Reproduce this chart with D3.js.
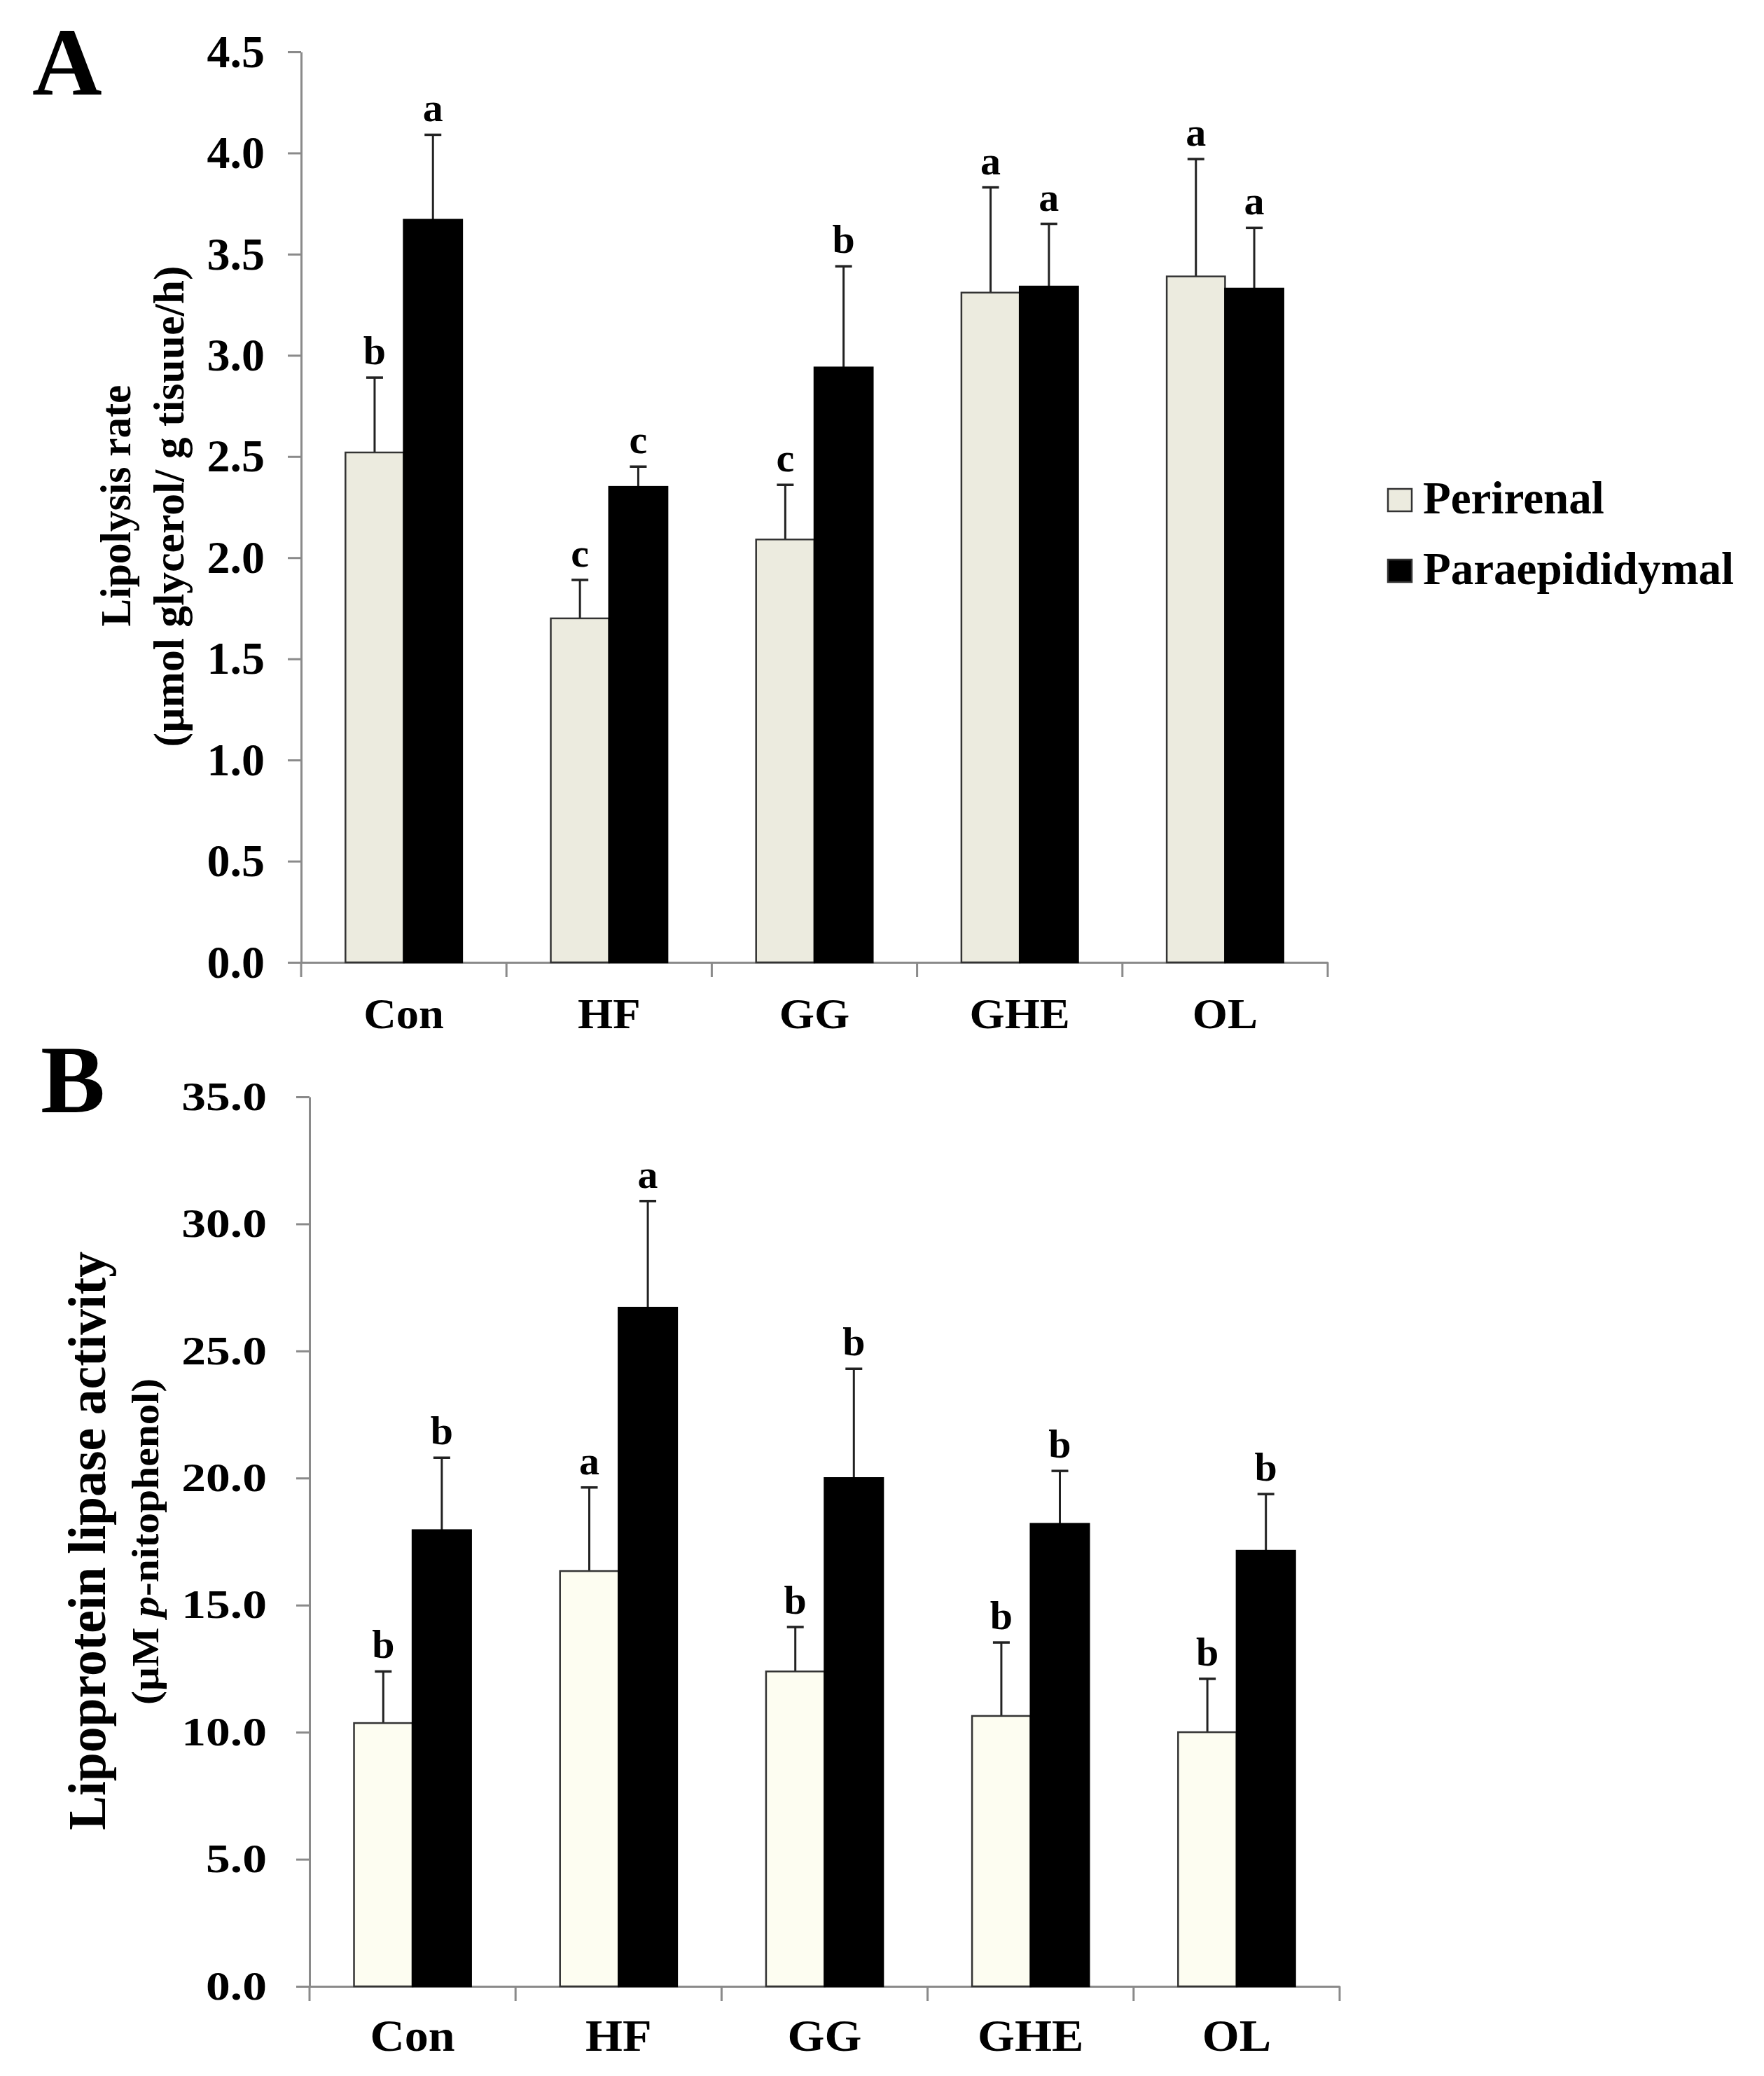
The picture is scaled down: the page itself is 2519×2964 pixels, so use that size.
<!DOCTYPE html>
<html>
<head>
<meta charset="utf-8">
<script src="https://cdn.jsdelivr.net/npm/d3@7"></script>
<style>
  body { margin: 0; background: #fff; }
  svg text { font-family: "Liberation Serif", "Times New Roman", serif; font-weight: bold; fill: #000; }
</style>
</head>
<body>
<div id="chart"></div>
<script>
const categories = ["Con", "HF", "GG", "GHE", "OL"];
const series = ["Perirenal", "Paraepididymal"];

// panel A: lipolysis rate
const lipoPeri = [2.52, 1.70, 2.09, 3.31, 3.39];
const lipoPeriErr = [0.37, 0.19, 0.27, 0.52, 0.58];
const lipoPara = [3.67, 2.35, 2.94, 3.34, 3.33];
const lipoParaErr = [0.42, 0.10, 0.50, 0.31, 0.30];
const lipoPeriSig = ["b", "c", "c", "a", "a"];
const lipoParaSig = ["a", "c", "b", "a", "a"];
const lipoTicks = [0, 0.5, 1.0, 1.5, 2.0, 2.5, 3.0, 3.5, 4.0, 4.5];

// panel B: lipoprotein lipase activity
const lplPeri = [10.36, 16.34, 12.39, 10.64, 10.0];
const lplPeriErr = [2.03, 3.29, 1.75, 2.89, 2.1];
const lplPara = [17.95, 26.7, 20.0, 18.2, 17.14];
const lplParaErr = [2.85, 4.2, 4.3, 2.08, 2.23];
const lplPeriSig = ["b", "a", "b", "b", "b"];
const lplParaSig = ["b", "a", "b", "b", "b"];
const lplTicks = [0, 5, 10, 15, 20, 25, 30, 35];

const width = 2519, height = 2964;
const svg = d3.select("#chart").append("svg")
  .attr("width", width)
  .attr("height", height);

// widen text horizontally (the original figure is squashed a bit)
function stretch(sel, k) {
  if (k === 1) return;
  sel.each(function () {
    const w = this.getComputedTextLength();
    d3.select(this).attr("textLength", w * k).attr("lengthAdjust", "spacingAndGlyphs");
  });
}

function panel(p) {
  const g = svg.append("g");
  const x = d3.scaleBand().domain(categories).range([p.x0, p.x1]);
  const x1 = d3.scaleBand().domain(series).range([0, x.bandwidth()]).paddingOuter(0.76);
  const y = d3.scaleLinear().domain(p.domain).range([p.y0, p.y1]);

  const rows = categories.map((c, i) => ({
    cat: c,
    bars: [
      { s: series[0], v: p.peri[i], e: p.periErr[i], sig: p.periSig[i] },
      { s: series[1], v: p.para[i], e: p.paraErr[i], sig: p.paraSig[i] },
    ],
  }));

  // y axis
  const yAxis = g.append("g")
    .attr("transform", `translate(${p.x0},0)`)
    .call(d3.axisLeft(y).tickValues(p.ticks).tickFormat(d3.format(".1f")).tickSize(19).tickPadding(p.tickPad).tickSizeOuter(0));
  yAxis.select(".domain").attr("stroke", "#8a8a8a").attr("stroke-width", 3);
  yAxis.selectAll(".tick line").attr("stroke", "#8a8a8a").attr("stroke-width", 3);
  yAxis.selectAll(".tick text").attr("font-size", p.tickFont).attr("fill", "#000");
  stretch(yAxis.selectAll(".tick text"), p.tickStretch);

  // x axis: line, boundary ticks, labels
  const xAxis = g.append("g")
    .attr("transform", `translate(0,${p.y0})`)
    .call(d3.axisBottom(x).tickSize(0).tickPadding(p.labelPad).tickSizeOuter(0));
  xAxis.select(".domain").attr("stroke", "#8a8a8a").attr("stroke-width", 3);
  xAxis.selectAll(".tick text").attr("font-size", p.labelFont).attr("fill", "#000");
  stretch(xAxis.selectAll(".tick text"), p.labelStretch);
  const bounds = categories.map((c) => x(c)).concat([x(categories[categories.length - 1]) + x.bandwidth()]);
  xAxis.selectAll("line.bound").data(bounds).enter().append("line")
    .attr("class", "bound")
    .attr("x1", (d) => d).attr("x2", (d) => d)
    .attr("y1", 0).attr("y2", 21)
    .attr("stroke", "#8a8a8a").attr("stroke-width", 3);

  const groups = g.selectAll("g.grp").data(rows).enter().append("g")
    .attr("class", "grp")
    .attr("transform", (d) => `translate(${x(d.cat)},0)`);

  // error bars first, bars drawn over their base
  const err = groups.selectAll("g.err").data((d) => d.bars).enter().append("g").attr("class", "err");
  err.append("line")
    .attr("x1", (d) => x1(d.s) + x1.bandwidth() / 2)
    .attr("x2", (d) => x1(d.s) + x1.bandwidth() / 2)
    .attr("y1", (d) => y(d.v))
    .attr("y2", (d) => y(d.v + d.e))
    .attr("stroke", "#222").attr("stroke-width", 3);
  err.append("line")
    .attr("x1", (d) => x1(d.s) + x1.bandwidth() / 2 - 12)
    .attr("x2", (d) => x1(d.s) + x1.bandwidth() / 2 + 12)
    .attr("y1", (d) => y(d.v + d.e))
    .attr("y2", (d) => y(d.v + d.e))
    .attr("stroke", "#222").attr("stroke-width", 3.5);
  err.append("text")
    .attr("x", (d) => x1(d.s) + x1.bandwidth() / 2)
    .attr("y", (d) => y(d.v + d.e) - 19)
    .attr("text-anchor", "middle")
    .attr("font-size", 58)
    .text((d) => d.sig);

  groups.selectAll("rect").data((d) => d.bars).enter().append("rect")
    .attr("x", (d) => x1(d.s))
    .attr("width", x1.bandwidth())
    .attr("y", (d) => y(d.v))
    .attr("height", (d) => y(0) - y(d.v))
    .attr("fill", (d) => (d.s === series[0] ? p.periColor : "#000"))
    .attr("stroke", (d) => (d.s === series[0] ? "#333" : "#000"))
    .attr("stroke-width", 2.5);

  // panel letter
  g.append("text")
    .attr("x", p.letterX).attr("y", p.letterY)
    .attr("font-size", 138)
    .text(p.letter);

  // y titles
  p.titles.forEach((t) => {
    const tx = g.append("text")
      .attr("transform", `translate(${t.x},${t.cy}) rotate(-90)`)
      .attr("text-anchor", "middle")
      .attr("font-size", t.size)
      .attr("textLength", t.len)
      .attr("lengthAdjust", "spacingAndGlyphs");
    t.parts.forEach((part) => {
      tx.append("tspan").attr("font-style", part.italic ? "italic" : null).text(part.s);
    });
  });
}

panel({
  x0: 430, x1: 1896, y0: 1374, y1: 74,
  domain: [0, 4.5], ticks: lipoTicks,
  peri: lipoPeri, periErr: lipoPeriErr, periSig: lipoPeriSig,
  para: lipoPara, paraErr: lipoParaErr, paraSig: lipoParaSig,
  periColor: "#ecebdf",
  tickFont: 66, tickStretch: 1, tickPad: 33,
  labelFont: 62, labelStretch: 1.04, labelPad: 94 - 44,
  letter: "A", letterX: 46, letterY: 135,
  titles: [
    { x: 186, cy: 722, size: 62, len: 345, parts: [{ s: "Lipolysis rate" }] },
    { x: 262, cy: 723, size: 61, len: 687, parts: [{ s: "(µmol glycerol/ g tisuue/h)" }] },
  ],
});

panel({
  x0: 442, x1: 1913, y0: 2836, y1: 1566,
  domain: [0, 35], ticks: lplTicks,
  peri: lplPeri, periErr: lplPeriErr, periSig: lplPeriSig,
  para: lplPara, paraErr: lplParaErr, paraSig: lplParaSig,
  periColor: "#fdfdf1",
  tickFont: 57, tickStretch: 1.22, tickPad: 42,
  labelFont: 63, labelStretch: 1.08, labelPad: 91 - 44,
  letter: "B", letterX: 58, letterY: 1588,
  titles: [
    { x: 150, cy: 2200, size: 76, len: 826, parts: [{ s: "Lipoprotein lipase activity" }] },
    { x: 226, cy: 2201, size: 55, len: 466, parts: [{ s: "(µM " }, { s: "p", italic: true }, { s: "-nitophenol)" }] },
  ],
});

// legend (panel A)
const legend = svg.append("g");
const legendY = d3.scalePoint().domain(series).range([714, 815]);
legend.selectAll("rect").data(series).enter().append("rect")
  .attr("x", 1982)
  .attr("y", (d) => legendY(d) - 16)
  .attr("width", 34).attr("height", 32)
  .attr("fill", (d, i) => (i === 0 ? "#ecebdf" : "#000"))
  .attr("stroke", "#333").attr("stroke-width", 2.5);
legend.selectAll("text").data(series).enter().append("text")
  .attr("x", 2032)
  .attr("y", (d) => legendY(d) + 19)
  .attr("font-size", 65)
  .text((d) => d);
</script>
</body>
</html>
